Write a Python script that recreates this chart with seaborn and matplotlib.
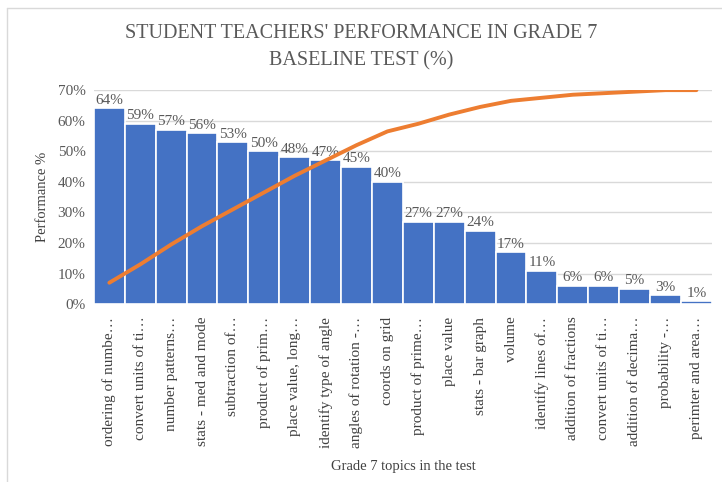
import numpy as np
import pandas as pd
import matplotlib
matplotlib.use("Agg")
import matplotlib.pyplot as plt
import seaborn as sns
from matplotlib.ticker import FuncFormatter
from matplotlib.lines import Line2D

# topics (labels as truncated in the original chart)
topics = ["ordering of numbe…", "convert units of ti…", "number patterns…",
          "stats - med and mode", "subtraction of…", "product of prim…",
          "place value, long…", "identify type of angle", "angles of rotation -…",
          "coords on grid", "product of prime…", "place value",
          "stats - bar graph", "volume", "identify lines of…",
          "addition of fractions", "convert units of ti…", "addition of decima…",
          "probability -…", "perimter and area…"]
performance = [64, 59, 57, 56, 53, 50, 48, 47, 45, 40,
               27, 27, 24, 17, 11, 6, 6, 5, 3, 1]
# orange curve
curve = [7, 13, 19.5, 25.5, 31, 36.5, 42, 47, 52, 56.5,
         59, 62, 64.5, 66.5, 67.5, 68.5, 69, 69.5, 70, 70]

# topic names repeat, so key the bars by their rank
df = pd.DataFrame({"rank": [str(i) for i in range(len(topics))],
                   "perf": performance})

sns.set_style("white")
plt.rcParams["font.family"] = ["Liberation Serif", "DejaVu Serif"]

fig = plt.figure(figsize=(7.22, 4.82), dpi=100)
ax = fig.add_axes([0.130, 0.369, 0.856, 0.444])

sns.barplot(data=df, x="rank", y="perf", color="#4472C4", width=1.0,
            saturation=1, edgecolor="white", linewidth=1.2, ax=ax, zorder=2)
ax.bar_label(ax.containers[0], fmt="{:.0f}%", color="#595959", fontsize=11, padding=1)

sns.lineplot(x=np.arange(len(curve)), y=curve, color="#ED7D31", linewidth=2.8,
             ax=ax, zorder=3)

ax.set_ylim(0, 70)
ax.set_xlim(-0.5, len(topics) - 0.5)
ax.set_yticks(range(0, 71, 10))
ax.yaxis.set_major_formatter(FuncFormatter(lambda v, p: f"{v:.0f}%"))
ax.set_xticks(range(len(topics)))
ax.set_xticklabels(topics)
ax.grid(axis="y", color="#D9D9D9", linewidth=1, zorder=0)
ax.set_axisbelow(True)
for s in ax.spines.values():
    s.set_visible(False)
ax.tick_params(axis="y", labelsize=11, labelcolor="#595959", length=0, pad=6)
ax.tick_params(axis="x", labelsize=11, labelcolor="#404040", length=0, pad=9,
               labelrotation=90)

ax.set_ylabel("Performance %", fontsize=10.5, color="#404040", labelpad=6)
ax.set_xlabel("Grade 7 topics in the test", fontsize=10.5, color="#404040")
ax.xaxis.set_label_coords(0.5, -0.73)

fig.text(0.5, 1 - 24 / 482, "STUDENT TEACHERS' PERFORMANCE IN GRADE 7\nBASELINE TEST (%)",
         ha="center", va="top", fontsize=14.5, color="#595959", linespacing=1.55)

# outer chart frame
fig.add_artist(Line2D([7 / 722, 7 / 722], [0, 1 - 8 / 482], color="#D9D9D9",
                      linewidth=1, transform=fig.transFigure))
fig.add_artist(Line2D([7 / 722, 1], [1 - 8 / 482, 1 - 8 / 482], color="#D9D9D9",
                      linewidth=1, transform=fig.transFigure))

fig.savefig("out.png", dpi=100)
